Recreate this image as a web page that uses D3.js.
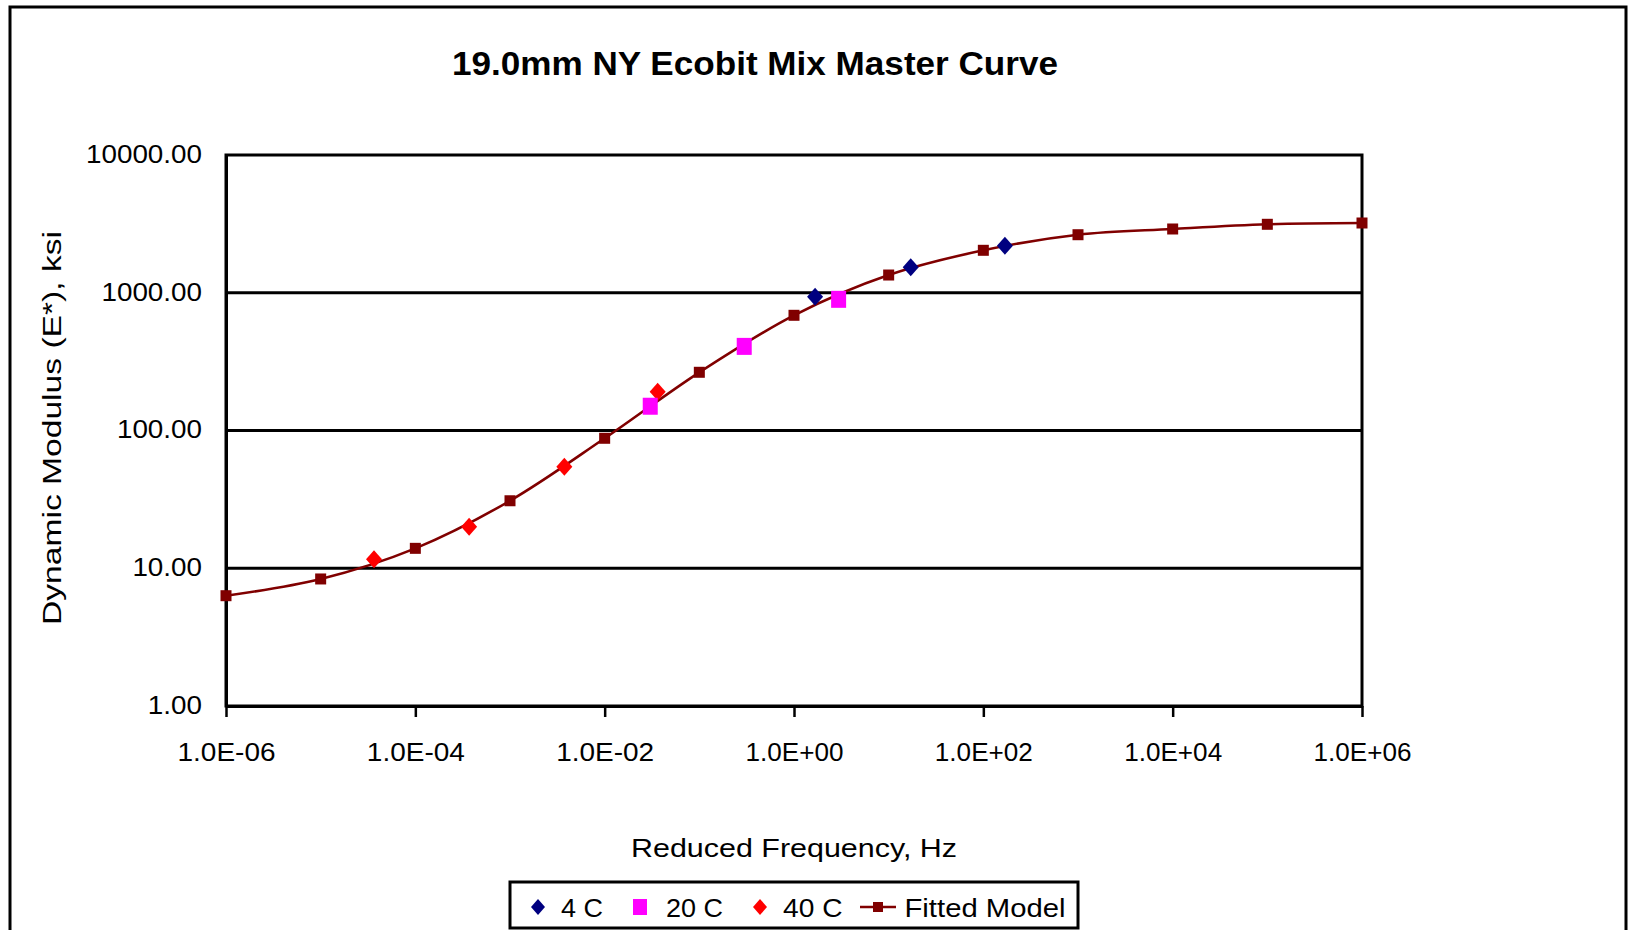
<!DOCTYPE html>
<html>
<head>
<meta charset="utf-8">
<script src="https://cdn.jsdelivr.net/npm/d3@7"></script>
<style>
  html, body { margin: 0; padding: 0; background: #fff; }
  svg { display: block; }
  text { font-family: "Liberation Sans", Arial, sans-serif; fill: #000; }
</style>
</head>
<body>
<script>
// ---- data ----
const fitFreq = [1e-6, 1e-5, 1e-4, 1e-3, 1e-2, 1e-1, 1e0, 1e1, 1e2, 1e3, 1e4, 1e5, 1e6];
const fitE    = [6.32, 8.36, 13.95, 30.9, 87.8, 264.6, 686, 1345, 2033, 2638, 2903, 3140, 3209];

const c4Freq  = [1.67, 17.1, 169];
const c4E     = [936, 1530, 2197];

const c20Freq = [0.0303, 0.298, 2.96];
const c20E    = [150, 408, 896];

const c40Freq = [3.66e-5, 3.7e-4, 3.75e-3, 0.0363];
const c40E    = [11.6, 20.0, 54.6, 191];

const xTickValues = [1e-6, 1e-4, 1e-2, 1e0, 1e2, 1e4, 1e6];
const xTickLabels = ["1.0E-06", "1.0E-04", "1.0E-02", "1.0E+00", "1.0E+02", "1.0E+04", "1.0E+06"];
const yTickValues = [1, 10, 100, 1000, 10000];
const yTickLabels = ["1.00", "10.00", "100.00", "1000.00", "10000.00"];

const titleText = "19.0mm NY Ecobit Mix Master Curve";
const xTitle = "Reduced Frequency, Hz";
const yTitle = "Dynamic Modulus (E*), ksi";
const legendNames = ["4 C", "20 C", "40 C", "Fitted Model"];

// ---- layout ----
const W = 1629, H = 930;
const L = 226, R = 1362, T = 155, B = 706;

const svg = d3.select("body").append("svg").attr("width", W).attr("height", H);

// outer chart border
svg.append("rect").attr("x", 10).attr("y", 7).attr("width", 1616).attr("height", 940)
  .attr("fill", "none").attr("stroke", "#000").attr("stroke-width", 3);

const x = d3.scaleLog().domain([1e-6, 1e6]).range([L, R]);
const y = d3.scaleLog().domain([1, 10000]).range([B, T]);

// gridlines
svg.append("g").selectAll("line").data(yTickValues.slice(1, -1)).join("line")
  .attr("x1", L).attr("x2", R).attr("y1", d => y(d)).attr("y2", d => y(d))
  .attr("stroke", "#000").attr("stroke-width", 3);

// plot frame
svg.append("rect").attr("x", L).attr("y", T).attr("width", R - L).attr("height", B - T)
  .attr("fill", "none").attr("stroke", "#000").attr("stroke-width", 3);

// x axis
const xAxis = d3.axisBottom(x).tickValues(xTickValues)
  .tickFormat((d, i) => xTickLabels[i]).tickSizeOuter(0).tickSizeInner(11).tickPadding(26);
const gx = svg.append("g").attr("transform", `translate(0,${B})`).call(xAxis);
gx.select(".domain").attr("stroke", "#000").attr("stroke-width", 3);
gx.selectAll(".tick line").attr("stroke", "#000").attr("stroke-width", 2.5);
gx.selectAll(".tick text").attr("font-size", 26).attr("fill", "#000")
  .attr("font-family", "'Liberation Sans', Arial, sans-serif")
  .attr("textLength", 98).attr("lengthAdjust", "spacingAndGlyphs");

// y axis
const yAxis = d3.axisLeft(y).tickValues(yTickValues)
  .tickFormat((d, i) => yTickLabels[i]).tickSizeOuter(0).tickSizeInner(0).tickPadding(24);
const gy = svg.append("g").attr("transform", `translate(${L},0)`).call(yAxis);
gy.select(".domain").attr("stroke", "#000").attr("stroke-width", 3);
gy.selectAll(".tick line").remove();
gy.selectAll(".tick text").attr("font-size", 26).attr("fill", "#000")
  .attr("font-family", "'Liberation Sans', Arial, sans-serif")
  .attr("dy", "0.28em")
  .each(function () {
    const len = this.getComputedTextLength();
    d3.select(this).attr("textLength", len * 1.07).attr("lengthAdjust", "spacingAndGlyphs");
  });

// titles
svg.append("text").attr("x", 755).attr("y", 75).attr("text-anchor", "middle")
  .attr("font-size", 33).attr("font-weight", "bold")
  .attr("textLength", 606).attr("lengthAdjust", "spacingAndGlyphs").text(titleText);

svg.append("text").attr("x", 794).attr("y", 857).attr("text-anchor", "middle")
  .attr("font-size", 26).attr("textLength", 326).attr("lengthAdjust", "spacingAndGlyphs").text(xTitle);

svg.append("text").attr("transform", "translate(61,428) rotate(-90)").attr("text-anchor", "middle")
  .attr("font-size", 26).attr("textLength", 394).attr("lengthAdjust", "spacingAndGlyphs").text(yTitle);

// ---- series ----
const fitColor = "#800000", c4Color = "#000080", c20Color = "#FF00FF", c40Color = "#FF0000";

const fitData = fitFreq.map((f, i) => [f, fitE[i]]);
const line = d3.line().x(d => x(d[0])).y(d => y(d[1])).curve(d3.curveCatmullRom.alpha(0.5));
svg.append("path").datum(fitData).attr("d", line)
  .attr("fill", "none").attr("stroke", fitColor).attr("stroke-width", 2.6);

function squares(data, color, w, h) {
  svg.append("g").selectAll("rect").data(data).join("rect")
    .attr("x", d => x(d[0]) - w / 2).attr("y", d => y(d[1]) - h / 2)
    .attr("width", w).attr("height", h).attr("fill", color);
}
function diamonds(data, color, hw, hh) {
  svg.append("g").selectAll("path").data(data).join("path")
    .attr("d", d => {
      const cx = x(d[0]), cy = y(d[1]);
      return `M${cx},${cy - hh}L${cx + hw},${cy}L${cx},${cy + hh}L${cx - hw},${cy}Z`;
    })
    .attr("fill", color);
}

squares(fitData, fitColor, 11, 11);
diamonds(c40Freq.map((f, i) => [f, c40E[i]]), c40Color, 8, 9);
squares(c20Freq.map((f, i) => [f, c20E[i]]), c20Color, 15, 17);
diamonds(c4Freq.map((f, i) => [f, c4E[i]]), c4Color, 8, 9);

// ---- legend ----
const lg = svg.append("g");
lg.append("rect").attr("x", 510).attr("y", 882).attr("width", 568).attr("height", 46)
  .attr("fill", "#fff").attr("stroke", "#000").attr("stroke-width", 3);
const ly = 907;
lg.append("path").attr("d", `M538,${ly - 8}L545,${ly}L538,${ly + 8}L531,${ly}Z`).attr("fill", c4Color);
lg.append("rect").attr("x", 633).attr("y", ly - 8).attr("width", 14).attr("height", 16).attr("fill", c20Color);
lg.append("path").attr("d", `M760,${ly - 8}L767,${ly}L760,${ly + 8}L753,${ly}Z`).attr("fill", c40Color);
lg.append("line").attr("x1", 860).attr("x2", 896).attr("y1", ly).attr("y2", ly)
  .attr("stroke", fitColor).attr("stroke-width", 2.6);
lg.append("rect").attr("x", 873).attr("y", ly - 5).attr("width", 10).attr("height", 10).attr("fill", fitColor);

const legX = [561, 666, 783, 904.5];
const legW = [42, 57, 59.5, 161];
lg.selectAll("text.leg").data(legendNames).join("text").attr("class", "leg")
  .attr("x", (d, i) => legX[i]).attr("y", 917).attr("font-size", 26)
  .attr("textLength", (d, i) => legW[i]).attr("lengthAdjust", "spacingAndGlyphs")
  .text(d => d);
</script>
</body>
</html>
